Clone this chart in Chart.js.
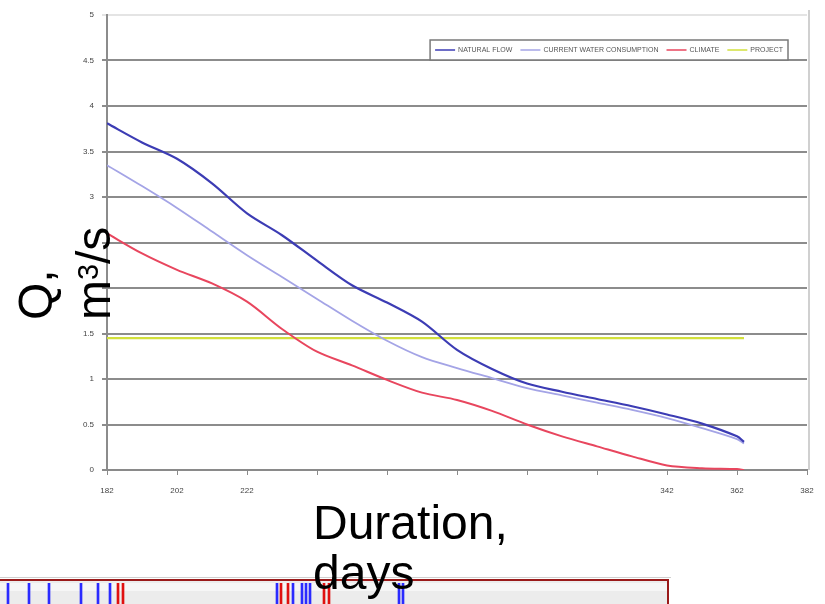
<!DOCTYPE html>
<html>
<head>
<meta charset="utf-8">
<script src="https://cdn.jsdelivr.net/npm/chart.js@4.4.1/dist/chart.umd.min.js"></script>
<style>
  html, body { margin: 0; padding: 0; background: #fff; }
  body { width: 825px; height: 604px; position: relative; overflow: hidden;
         font-family: "Liberation Sans", Arial, sans-serif; }
  #main { position: absolute; left: 0; top: 0; filter: blur(0.75px); }
  #strip { position: absolute; left: 0; top: 574px; }
  .ttl { position: absolute; color: #000; font-size: 48px; white-space: nowrap; }
  .ttl sup { font-size: 0.6em; vertical-align: 0.42em; line-height: 0; }
  #ytitle { left: 7px; top: 320px; line-height: 58px; transform-origin: 0 0; transform: rotate(-90deg); }
  #xtitle { left: 313px; top: 498px; line-height: 50px; }
</style>
</head>
<body>
<canvas id="main" width="825" height="604"></canvas>
<canvas id="strip" width="675" height="30"></canvas>
<div id="ytitle" class="ttl">Q,<br>m<sup>3</sup>/s</div>
<div id="xtitle" class="ttl">Duration,<br>days</div>

<script>
// Flow duration curves, discharge Q (m3/s) by day
const days = [182, 192, 202, 212, 222, 232, 242, 252, 262, 272, 282, 292, 302, 312, 322, 332, 342, 352, 362, 364];
const naturalFlow = [3.81, 3.60, 3.42, 3.15, 2.82, 2.58, 2.30, 2.03, 1.84, 1.63, 1.32, 1.11, 0.95, 0.86, 0.78, 0.70, 0.61, 0.51, 0.37, 0.31];
const currentUse  = [3.35, 3.12, 2.88, 2.62, 2.36, 2.12, 1.88, 1.64, 1.42, 1.24, 1.12, 1.01, 0.90, 0.82, 0.74, 0.66, 0.57, 0.46, 0.34, 0.29];
const climate     = [2.60, 2.38, 2.20, 2.05, 1.85, 1.55, 1.30, 1.15, 0.99, 0.85, 0.77, 0.65, 0.50, 0.37, 0.26, 0.15, 0.05, 0.02, 0.01, 0.00];
const projectDays = [182, 364];
const projectFlow = [1.45, 1.45];

const seriesLabels = ["NATURAL FLOW", "CURRENT WATER CONSUMPTION", "CLIMATE", "PROJECT"];

const xTicks = [182, 202, 222, 242, 262, 282, 302, 322, 342, 362, 382];
const xTickLabels = ["182", "202", "222", "", "", "", "", "", "342", "362", "382"];
const yTicks = [0, 0.5, 1, 1.5, 2, 2.5, 3, 3.5, 4, 4.5, 5];
const yTickLabels = ["0", "0.5", "1", "1.5", "", "", "3", "3.5", "4", "4.5", "5"];

// marks on the strip below the chart
const stripBlue = [8, 29, 49, 81, 98, 110, 277, 293, 302, 306, 310, 399, 403];
const stripRed = [118, 123, 281, 288, 324, 329];

const toPoints = (xs, ys) => xs.map((x, i) => ({ x: x, y: ys[i] }));

// boxed legend drawn inside the plot area
const boxLegend = {
  id: 'boxLegend',
  afterDatasetsDraw(chart, args, opts) {
    const ctx = chart.ctx;
    const ca = chart.chartArea;
    ctx.save();
    ctx.font = opts.font;
    const items = chart.data.datasets.map(ds => ({
      label: ds.label, color: ds.borderColor, w: ctx.measureText(ds.label).width
    }));
    const total = items.reduce((s, it) => s + opts.sample + opts.gap + it.w, 0)
      + opts.itemGap * (items.length - 1) + opts.pad * 2;
    const right = ca.right - opts.offsetRight;
    const left = right - total;
    const top = ca.top + opts.offsetTop;
    ctx.fillStyle = '#fff';
    ctx.fillRect(left, top, total, opts.height);
    ctx.strokeStyle = '#7a7a7a';
    ctx.lineWidth = 1.5;
    ctx.strokeRect(left, top, total, opts.height);
    let x = left + opts.pad;
    const cy = top + opts.height / 2;
    items.forEach(it => {
      ctx.strokeStyle = it.color;
      ctx.lineWidth = 1.5;
      ctx.beginPath(); ctx.moveTo(x, cy); ctx.lineTo(x + opts.sample, cy); ctx.stroke();
      x += opts.sample + opts.gap;
      ctx.fillStyle = '#555';
      ctx.textBaseline = 'middle';
      ctx.fillText(it.label, x, cy);
      x += it.w + opts.itemGap;
    });
    ctx.restore();
  }
};

// white page and a thin frame on the right edge of the plot
const plotFrame = {
  id: 'plotFrame',
  beforeDraw(chart) {
    const ctx = chart.ctx, ca = chart.chartArea;
    ctx.save();
    ctx.fillStyle = '#fff';
    ctx.fillRect(0, 0, chart.width, chart.height);
    ctx.strokeStyle = '#d0d0d0';
    ctx.lineWidth = 2;
    ctx.beginPath(); ctx.moveTo(ca.right + 2, ca.top - 5); ctx.lineTo(ca.right + 2, ca.bottom); ctx.stroke();
    ctx.restore();
  }
};

const tickFont = { size: 8, family: '"Liberation Sans", Arial, sans-serif' };

new Chart(document.getElementById('main'), {
  type: 'line',
  data: {
    datasets: [
      { label: seriesLabels[0], data: toPoints(days, naturalFlow), borderColor: '#3c3cb4', borderWidth: 2.2, pointRadius: 0, tension: 0.3 },
      { label: seriesLabels[1], data: toPoints(days, currentUse), borderColor: '#a4a4e6', borderWidth: 1.8, pointRadius: 0, tension: 0.3 },
      { label: seriesLabels[2], data: toPoints(days, climate), borderColor: '#e8465e', borderWidth: 2, pointRadius: 0, tension: 0.3 },
      { label: seriesLabels[3], data: toPoints(projectDays, projectFlow), borderColor: '#d2e03c', borderWidth: 2.2, pointRadius: 0 }
    ]
  },
  options: {
    responsive: false,
    animation: false,
    events: [],
    layout: { padding: { left: 0, top: 15, right: 18, bottom: 104 } },
    plugins: {
      legend: { display: false },
      tooltip: { enabled: false },
      boxLegend: { font: '7px "Liberation Sans", Arial, sans-serif', sample: 20, gap: 3, itemGap: 8, pad: 5, height: 20, offsetRight: 19, offsetTop: 25 }
    },
    scales: {
      x: {
        type: 'linear', min: 182, max: 382,
        afterBuildTicks: s => { s.ticks = xTicks.map(v => ({ value: v })); },
        afterFit: s => { s.height = 30; },
        ticks: { autoSkip: false, maxRotation: 0, padding: 11, color: '#444', font: tickFont,
                 callback: (v, i) => xTickLabels[i] },
        grid: { drawOnChartArea: false, drawTicks: true, tickLength: 5, color: '#8a8a8a', lineWidth: 1 },
        border: { color: '#8a8a8a', width: 2 }
      },
      y: {
        min: 0, max: 5,
        afterBuildTicks: s => { s.ticks = yTicks.map(v => ({ value: v })); },
        afterFit: s => { s.width = 107; },
        ticks: { autoSkip: false, padding: 8, color: '#444', font: tickFont,
                 callback: (v, i) => yTickLabels[i] },
        grid: { color: ctx => ctx.tick && ctx.tick.value === 5 ? '#e4e4e4' : '#8c8c8c', lineWidth: 2, tickLength: 5 },
        border: { color: '#8c8c8c', width: 2 }
      }
    }
  },
  plugins: [plotFrame, boxLegend]
});

// framed strip with blue and red marks
const stripFrame = {
  id: 'stripFrame',
  beforeDatasetsDraw(chart) {
    const ctx = chart.ctx, ca = chart.chartArea;
    ctx.save();
    ctx.fillStyle = '#ececec';
    ctx.fillRect(ca.left, ca.top - 3, ca.right - ca.left, ca.bottom - ca.top + 3);
    ctx.fillStyle = '#f6f6f6';
    ctx.fillRect(ca.left, ca.top, ca.right - ca.left, 8);
    ctx.strokeStyle = '#cfcfcf';
    ctx.lineWidth = 1;
    ctx.beginPath(); ctx.moveTo(ca.left, ca.top - 5.5); ctx.lineTo(ca.right + 3, ca.top - 5.5); ctx.stroke();
    ctx.strokeStyle = '#9a1a1a';
    ctx.lineWidth = 2;
    ctx.beginPath();
    ctx.moveTo(ca.left, ca.top - 3); ctx.lineTo(ca.right, ca.top - 3); ctx.lineTo(ca.right, ca.bottom);
    ctx.stroke();
    ctx.restore();
  }
};

new Chart(document.getElementById('strip'), {
  type: 'bar',
  data: {
    datasets: [
      { data: stripBlue.map(v => ({ x: v, y: 1 })), backgroundColor: '#2b2bff', barThickness: 2, grouped: false },
      { data: stripRed.map(v => ({ x: v, y: 1 })), backgroundColor: '#e01010', barThickness: 2, grouped: false }
    ]
  },
  options: {
    responsive: false,
    animation: false,
    events: [],
    layout: { padding: { left: 0, top: 9, right: 7, bottom: 0 } },
    plugins: { legend: { display: false }, tooltip: { enabled: false } },
    scales: {
      x: { type: 'linear', min: 0, max: 668, offset: false, display: false },
      y: { min: 0, max: 1, display: false }
    }
  },
  plugins: [stripFrame]
});
</script>
</body>
</html>
